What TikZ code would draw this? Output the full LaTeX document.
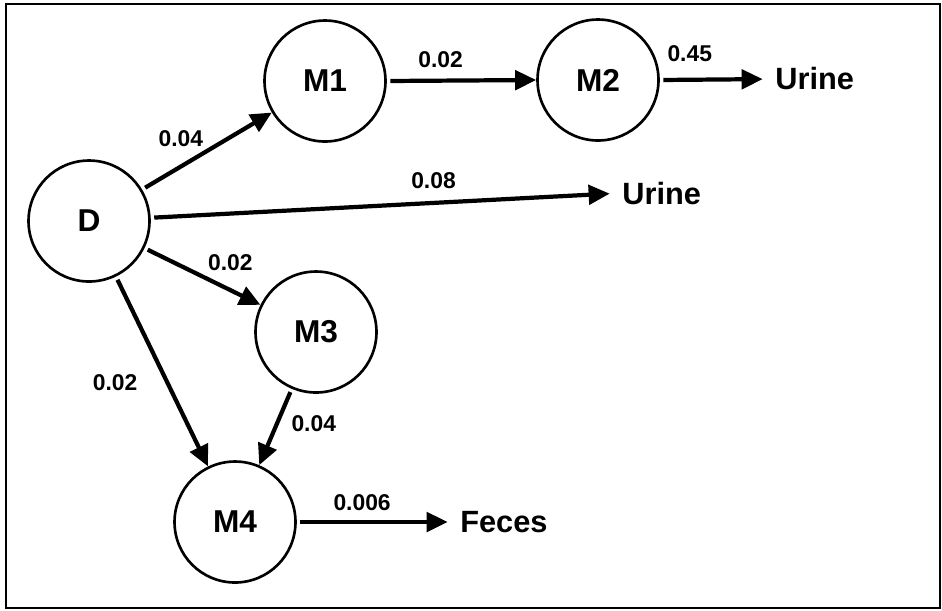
\documentclass[tikz,border=0pt]{standalone}
\usepackage{fontspec}
\setmainfont{Liberation Sans}
\usetikzlibrary{arrows.meta}

\begin{document}
\begin{tikzpicture}[
  x=0.02cm, y=-0.02cm,
  comp/.style={circle, draw=black, line width=1.5pt, minimum size=2.42cm, inner sep=0pt, font=\fontsize{18}{21}\selectfont\bfseries},
  sink/.style={anchor=west, inner sep=0pt, font=\fontsize{17.5}{20}\selectfont\bfseries},
  rate/.style={inner sep=1pt, font=\fontsize{13}{15}\selectfont\bfseries},
  flow/.style={-{Triangle[length=12pt, width=11pt]}, line width=2.4pt, shorten <=2pt},
  tosink/.style={flow, shorten >=7pt}
]
  \useasboundingbox (0,0) rectangle (942,610);
  \draw[line width=1.2pt] (6,4) rectangle (940,608);

  % Compartments: parent drug and metabolites
  \node[comp] (D)  at (89,221)  {D};
  \node[comp] (M1) at (325,81)  {M1};
  \node[comp] (M2) at (598,80)  {M2};
  \node[comp] (M3) at (316,332) {M3};
  \node[comp] (M4) at (235,522) {M4};

  % Excretion
  \node[sink] (urineA) at (775,79)  {Urine};
  \node[sink] (urineB) at (622,193) {Urine};
  \node[sink] (feces)  at (460,522) {Feces};

  % Rate constants
  \draw[flow] (D) -- node[rate, pos=0.5, above left] (kD1) {0.04} (M1);
  \draw[flow] (M1.east) -- node[rate, pos=0.36, above=5pt] (k12) {0.02} (M2.west);
  \draw[tosink] (M2.east) -- node[rate, pos=0.26, above=8pt] (k2u) {0.45} (urineA.west);
  \draw[tosink] (D) -- node[rate, pos=0.6, above=6pt] (kDu) {0.08} (urineB.west);
  \draw[flow] (D) -- node[rate, pos=0.5, above right=1pt] (kD3) {0.02} (M3);
  \draw[flow] (D) -- node[rate, pos=0.56, left=15pt] (kD4) {0.02} (M4);
  \draw[flow] (M3) -- node[rate, pos=0.45, right=6pt] (k34) {0.04} (M4);
  \draw[tosink] (M4.east) -- node[rate, pos=0.4, above=4pt] (k4f) {0.006} (feces.west);

\end{tikzpicture}
\end{document}
